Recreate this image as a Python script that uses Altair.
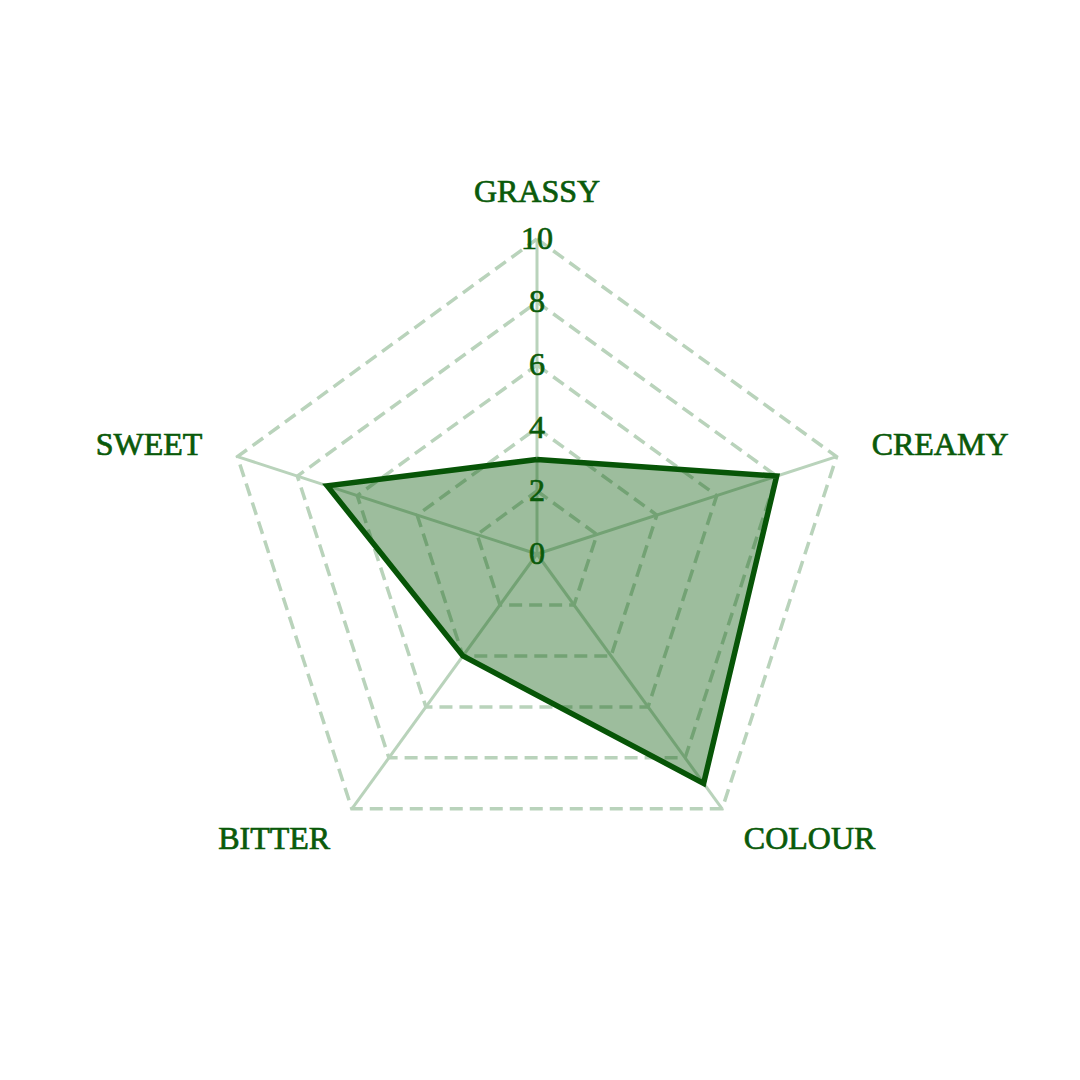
import math
import altair as alt
import pandas as pd

categories = ["GRASSY", "CREAMY", "COLOUR", "BITTER", "SWEET"]
values = [3, 8, 9, 4, 7]
angles_deg = [90, 18, -54, -126, 162]
grid_levels = [2, 4, 6, 8, 10]
tick_values = [0, 2, 4, 6, 8, 10]
tick_labels = ["0", "2", "4", "6", "8", "10"]
label_align = ["center", "left", "left", "right", "right"]

DARK = "#0a5a0a"
GRID = "#b9d3bb"
FONT = "Liberation Serif"
PX = 31.5
LABEL_R = 11.17


def pt(r, a):
    return r * math.cos(math.radians(a)), r * math.sin(math.radians(a))


# data polygon (closed)
poly_rows = []
for i in range(len(categories) + 1):
    k = i % len(categories)
    x, y = pt(values[k], angles_deg[k])
    poly_rows.append({"x": x, "y": y, "o": i, "cat": categories[k], "v": values[k]})
poly = pd.DataFrame(poly_rows)

# grid pentagons
grid_rows = []
for lv in grid_levels:
    for i in range(len(categories) + 1):
        k = i % len(categories)
        x, y = pt(lv, angles_deg[k])
        grid_rows.append({"x": x, "y": y, "o": i, "level": lv})
grid = pd.DataFrame(grid_rows)

# spokes
spoke_rows = []
for k, c in enumerate(categories):
    x2, y2 = pt(max(grid_levels), angles_deg[k])
    spoke_rows.append({"x": 0.0, "y": 0.0, "x2": x2, "y2": y2, "cat": c})
spokes = pd.DataFrame(spoke_rows)

# tick labels
ticks = pd.DataFrame({"x": [0.0] * len(tick_values), "y": tick_values, "t": tick_labels})

# category labels
lab_rows = []
for k, c in enumerate(categories):
    x, y = pt(LABEL_R, angles_deg[k])
    lab_rows.append({"x": x, "y": y, "cat": c, "align": label_align[k]})
labels = pd.DataFrame(lab_rows)

xs = alt.Scale(domain=[-529 / PX, 521 / PX], nice=False, zero=False)
ys = alt.Scale(domain=[-504 / PX, 546 / PX], nice=False, zero=False)
X = alt.X("x:Q", scale=xs, axis=None)
Y = alt.Y("y:Q", scale=ys, axis=None)

grid_layer = alt.Chart(grid).mark_line(
    color=GRID, strokeWidth=3.5, strokeDash=[13, 7]
).encode(x=X, y=Y, order="o:Q", detail="level:N")

spoke_layer = alt.Chart(spokes).mark_rule(color=GRID, strokeWidth=3).encode(
    x=X, y=Y, x2="x2:Q", y2="y2:Q"
)

fill_layer = alt.Chart(poly).mark_line(
    fill=DARK, fillOpacity=0.4, stroke="#075507", strokeWidth=5.5, strokeJoin="miter"
).encode(x=X, y=Y, order="o:Q")

TXT = dict(font=FONT, fontSize=32, color=DARK, stroke=DARK, strokeWidth=0.7)

tick_layer = alt.Chart(ticks).mark_text(
    align="center", baseline="middle", **TXT
).encode(x=X, y=Y, text="t:N")

lab_center = alt.Chart(labels).transform_filter(alt.datum.align == "center").mark_text(
    align="center", baseline="alphabetic", **TXT
).encode(x=X, y=Y, text="cat:N")
lab_left = alt.Chart(labels).transform_filter(alt.datum.align == "left").mark_text(
    align="left", baseline="middle", **TXT
).encode(x=X, y=Y, text="cat:N")
lab_right = alt.Chart(labels).transform_filter(alt.datum.align == "right").mark_text(
    align="right", baseline="middle", **TXT
).encode(x=X, y=Y, text="cat:N")

chart = alt.layer(
    grid_layer, spoke_layer, fill_layer, tick_layer, lab_center, lab_left, lab_right
).properties(
    width=1050, height=1050, padding=0, autosize=alt.AutoSizeParams(type="none")
).configure_view(stroke=None)

chart.save("out.html", embed_options={"renderer": "svg", "actions": False})
